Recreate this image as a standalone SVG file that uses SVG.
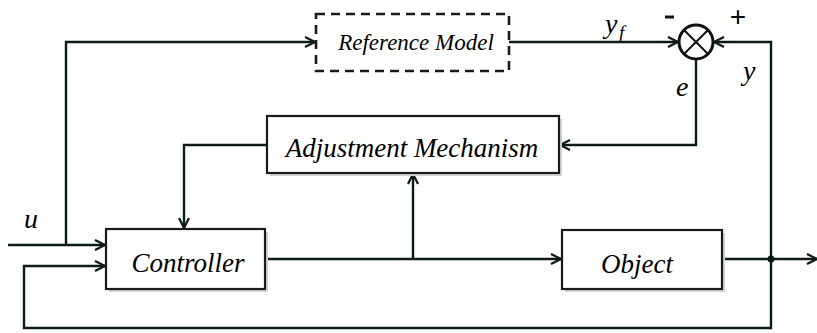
<svg xmlns="http://www.w3.org/2000/svg" width="817" height="333" viewBox="0 0 817 333">
  <defs>
    <marker id="arrow" viewBox="0 0 12 12" refX="11" refY="6" markerWidth="12" markerHeight="12" markerUnits="userSpaceOnUse" orient="auto">
      <path d="M1,1 L11,6 L1,11" fill="none" stroke="#0d1a1a" stroke-width="2.2"/>
    </marker>
  </defs>

  <!-- all connectors share one stroke style set on the group -->
  <g id="connectors" fill="none" stroke="#0d1a1a" stroke-width="2.4">
    <!-- u input and branch up to the reference model -->
    <path d="M8,245 H105" marker-end="url(#arrow)"/>
    <path d="M66,245 V42 H315" marker-end="url(#arrow)"/>
    <!-- reference model output y_f to summing junction -->
    <path d="M509,42 H678" marker-end="url(#arrow)"/>
    <!-- plant output y fed back to summing junction -->
    <path d="M771,259 V42 H714" marker-end="url(#arrow)"/>
    <!-- error e to adjustment mechanism -->
    <path d="M696,60 V145 H560" marker-end="url(#arrow)"/>
    <!-- adjustment mechanism to controller -->
    <path d="M267,145 H184 V228" marker-end="url(#arrow)"/>
    <!-- controller output to object -->
    <path d="M265,259 H561" marker-end="url(#arrow)"/>
    <!-- controller output tap to adjustment mechanism -->
    <path d="M413,259 V174" marker-end="url(#arrow)"/>
    <!-- object output -->
    <path d="M722,259 H817" marker-end="url(#arrow)"/>
    <!-- state feedback to controller -->
    <path d="M771,259 V328 H24 V266 H105" marker-end="url(#arrow)"/>
    <circle cx="771" cy="259" r="3.5" fill="#0d1a1a" stroke="none"/>
  </g>

  <g id="reference-model">
    <rect x="316" y="14" width="193" height="57" fill="#ffffff" stroke="#1a1a1a" stroke-width="2.6" stroke-dasharray="9 6"/>
    <text x="416" y="50" font-family="Liberation Serif" font-style="italic" font-size="23" text-anchor="middle">Reference Model</text>
  </g>

  <g id="summing-junction">
    <circle cx="696" cy="42" r="17" fill="#ffffff" stroke="#111111" stroke-width="3"/>
    <path d="M684,30 L708,54 M708,30 L684,54" stroke="#111111" stroke-width="2"/>
    <path d="M665,17 H674" stroke="#111111" stroke-width="3"/>
    <text x="738" y="26" font-family="Liberation Sans" font-size="28" text-anchor="middle">+</text>
  </g>

  <!-- solid boxes carry a soft offset shade drawn as a lighter rect behind them -->
  <g id="adjustment-mechanism">
    <rect x="270" y="119" width="292" height="57" fill="#d4d4d4"/>
    <rect x="267" y="116" width="292" height="57" fill="#ffffff" stroke="#1a1a1a" stroke-width="2.2"/>
    <text x="412" y="157" font-family="Liberation Serif" font-style="italic" font-size="27" text-anchor="middle">Adjustment Mechanism</text>
  </g>

  <g id="controller">
    <rect x="109" y="232" width="159" height="60" fill="#d4d4d4"/>
    <rect x="106" y="229" width="159" height="60" fill="#ffffff" stroke="#1a1a1a" stroke-width="2.2"/>
    <text x="188" y="272" font-family="Liberation Serif" font-style="italic" font-size="27" text-anchor="middle">Controller</text>
  </g>

  <g id="object">
    <rect x="565" y="233" width="160" height="59" fill="#d4d4d4"/>
    <rect x="562" y="230" width="160" height="59" fill="#ffffff" stroke="#1a1a1a" stroke-width="2.2"/>
    <text x="637" y="273" font-family="Liberation Serif" font-style="italic" font-size="27" text-anchor="middle">Object</text>
  </g>

  <g id="signal-labels">
    <text x="605" y="33" font-family="Liberation Serif" font-style="italic" font-size="28">y</text>
    <text x="619" y="39" font-family="Liberation Serif" font-style="italic" font-size="19">f</text>
    <text x="676" y="96" font-family="Liberation Serif" font-style="italic" font-size="28">e</text>
    <text x="743" y="80" font-family="Liberation Serif" font-style="italic" font-size="28">y</text>
    <text x="24" y="228" font-family="Liberation Serif" font-style="italic" font-size="28">u</text>
  </g>
</svg>
